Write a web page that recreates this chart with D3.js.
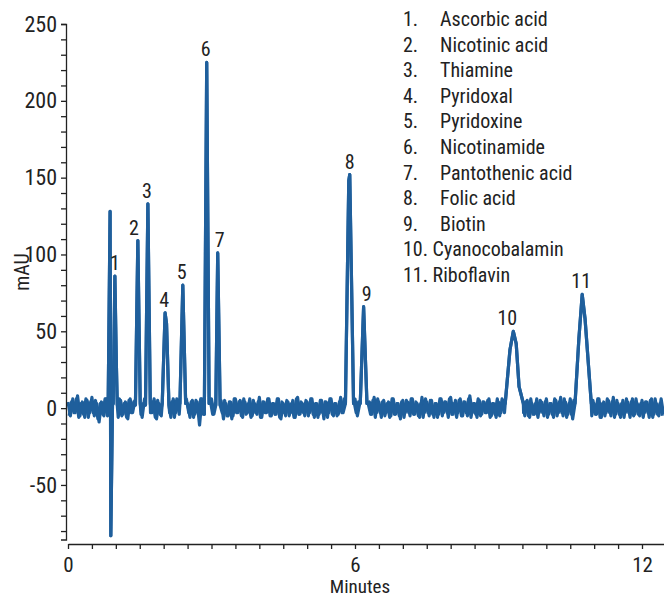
<!DOCTYPE html>
<meta charset="utf-8">
<script src="https://d3js.org/d3.v7.min.js"></script>
<head>
<style>
  body { margin: 0; background: #fff; }
  text { font-family: "Liberation Sans Narrow", "Arial Narrow", "Roboto Condensed", "Liberation Sans", sans-serif; fill: #222; }
</style>
</head>
<body>
<div id="my_dataviz"></div>
<script>
// compound names for the legend
var compounds = ["Ascorbic acid", "Nicotinic acid", "Thiamine", "Pyridoxal", "Pyridoxine",
  "Nicotinamide", "Pantothenic acid", "Folic acid", "Biotin", "Cyanocobalamin", "Riboflavin"];

// peak apex (minutes, mAU) used for the peak number labels
var peakTimes   = [0.98, 1.46, 1.67, 2.03, 2.40, 2.90, 3.13, 5.89, 6.18, 9.31, 10.75];
var peakHeights = [86, 109, 133, 62, 80, 225, 101, 152, 66, 50, 74];

// peak shapes: [minutes, mAU]
var injection = [[0.84, 3], [0.88, 128], [0.895, -83], [0.93, 2]];
var peak1  = [[0.945, 3], [0.98, 86], [1.01, 30], [1.03, 2]];
var peak2  = [[1.41, 2], [1.46, 109], [1.51, 3]];
var peak3  = [[1.62, 2], [1.67, 133], [1.72, 3]];
var peak4  = [[1.97, 3], [2.03, 62], [2.06, 55], [2.11, 2]];
var peak5  = [[2.34, 3], [2.40, 80], [2.46, 3]];
var peak6  = [[2.85, -4], [2.90, 225], [2.95, 3]];
var peak7  = [[3.09, 2], [3.13, 101], [3.18, 2]];
var peak8  = [[5.80, 3], [5.87, 148], [5.89, 152], [5.97, 3]];
var peak9  = [[6.11, 3], [6.18, 66], [6.25, 3]];
var peak10 = [[9.14, 3], [9.24, 38], [9.31, 50], [9.37, 42], [9.43, 14], [9.52, 3]];
var peak11 = [[10.60, 3], [10.68, 45], [10.75, 74], [10.81, 58], [10.94, 3]];
var peaks = [injection, peak1, peak2, peak3, peak4, peak5, peak6, peak7, peak8, peak9, peak10, peak11];

// baseline noise of the two overlaid runs, one reading every 0.05 min
var baseStep = 0.05;
var baselineA = [
  4,-5,6,-3,8,-5,4,-6,5,-3,7,-5,3,-9,4,-5,6,-3,5,-4,
  3,-6,5,-4,4,-7,6,-3,5,-5,7,-6,6,-4,4,-3,6,-7,3,-5,
  5,-4,4,-6,6,-3,4,-5,5,-4,3,-6,5,-4,4,-11,6,-3,4,-5,
  6,-4,4,-3,5,-7,3,-5,4,-5,6,-3,5,-6,4,-3,6,-5,3,-4,
  7,-6,4,-3,6,-5,3,-4,6,-7,3,-5,4,-3,5,-6,7,-4,3,-5,
  4,-3,6,-6,3,-4,5,-7,4,-3,6,-5,3,-4,7,-3,4,-6,5,-4,
  6,-5,3,-4,5,-6,4,-4,7,-3,4,-6,5,-3,4,-5,6,-4,3,-7,
  5,-3,4,-5,6,-4,3,-6,7,-3,4,-5,5,-6,3,-4,6,-3,4,-6,
  7,-4,5,-3,6,-5,4,-5,8,-3,3,-6,5,-4,4,-3,6,-5,3,-6,
  4,-3,5,-5,6,-4,3,-7,6,-3,4,-5,5,-6,3,-4,6,-3,4,-5,
  6,-4,3,-6,5,-3,7,-5,4,-4,6,-7,3,-3,5,-6,4,-3,6,-5,
  3,-4,6,-6,4,-3,5,-5,7,-4,3,-6,5,-3,4,-6,6,-4,3,-5,
  5,-3,4,-6,6,-4,3,-5,6,-4
];
var baselineB = [
  -5,4,-3,6,-6,3,-4,6,-6,4,-3,5,-7,3,-4,6,-5,3,-6,4,
  -3,6,-5,3,-6,5,-3,4,-6,6,-4,3,-5,6,-3,4,-6,5,-4,3,
  -6,5,-3,4,-6,6,-4,3,-5,6,-3,4,-6,5,-3,6,-4,3,-6,5,
  -4,3,-6,6,-3,5,-5,4,-7,6,-3,4,-5,6,-4,3,-6,5,-3,4,
  -6,4,-3,6,-5,3,-4,6,-6,4,-3,5,-5,3,-6,6,-4,4,-3,5,
  -5,6,-4,3,-6,5,-3,4,-6,6,-4,3,-5,4,-3,6,-6,3,-4,5,
  -3,4,-6,6,-5,3,-4,5,-6,6,-3,4,-5,3,-6,6,-4,3,-5,4,
  -6,5,-3,6,-4,4,-5,3,-6,6,-3,5,-4,3,-6,6,-5,4,-3,6,
  -4,3,-6,5,-5,4,-3,6,-6,3,-4,6,-5,4,-3,5,-6,3,-4,6,
  -5,6,-3,4,-6,5,-4,3,-6,6,-3,4,-5,6,-4,3,-6,5,-3,4,
  -6,3,-4,6,-5,4,-3,6,-6,3,-4,5,-5,4,-6,6,-3,3,-4,5,
  -4,6,-6,3,-5,6,-3,4,-6,5,-4,3,-6,6,-3,4,-5,6,-4,3,
  -6,4,-3,5,-6,6,-4,3,-5,4
];

var xTicks = [0, 6, 12];
var yTicks = [-50, 0, 50, 100, 150, 200, 250];

var width = 664, height = 597;
var svg = d3.select("#my_dataviz")
  .append("svg")
    .attr("width", width)
    .attr("height", height);

var x = d3.scaleLinear().domain([0, 12.46]).range([68, 664]);
var y = d3.scaleLinear().domain([-85.5, 250]).range([539.5, 24]);

// build a trace: baseline outside the peak windows, plus the peak points
function buildTrace(baseline, offset) {
  var pts = [];
  baseline.forEach(function(v, i) {
    var t = i * baseStep + offset;
    var inside = peaks.some(function(p) { return t >= p[0][0] && t <= p[p.length - 1][0]; });
    if (!inside) pts.push([t, v]);
  });
  peaks.forEach(function(p) { p.forEach(function(d) { pts.push(d); }); });
  pts.sort(function(a, b) { return a[0] - b[0]; });
  return pts.filter(function(d) { return d[0] <= 12.46; });
}

var line = d3.line()
  .x(function(d) { return x(d[0]); })
  .y(function(d) { return y(d[1]); });

[buildTrace(baselineA, 0), buildTrace(baselineB, 0.025)].forEach(function(pts) {
  svg.append("path")
    .datum(pts)
    .attr("fill", "none")
    .attr("stroke", "#1f5f9c")
    .attr("stroke-width", 3.2)
    .attr("stroke-linejoin", "round")
    .attr("d", line);
});

// Y axis
var yAxis = svg.append("g")
  .attr("transform", "translate(66,0)")
  .call(d3.axisLeft(y).tickValues(d3.range(-80, 251, 10)).tickSize(5).tickSizeOuter(5)
    .tickFormat(function(d) { return yTicks.indexOf(d) >= 0 ? d : ""; }));
yAxis.selectAll("text").style("font-size", "22px").attr("x", -9);
yAxis.selectAll("path, line").attr("stroke", "#222").attr("stroke-width", 1.3);

svg.append("text")
  .attr("transform", "translate(29,272) rotate(-90)")
  .attr("text-anchor", "middle")
  .style("font-size", "20px")
  .text("mAU");

// X axis
var xAxis = svg.append("g")
  .attr("transform", "translate(0,544)")
  .call(d3.axisBottom(x).tickValues(d3.range(0, 12.5, 0.5)).tickSize(5).tickSizeOuter(0)
    .tickFormat(function(d) { return xTicks.indexOf(d) >= 0 ? d : ""; }));
xAxis.selectAll("text").style("font-size", "21px").attr("y", 13);
xAxis.selectAll("path, line").attr("stroke", "#222").attr("stroke-width", 1.3);

svg.append("text")
  .attr("x", 360)
  .attr("y", 593)
  .attr("text-anchor", "middle")
  .style("font-size", "19px")
  .text("Minutes");

// peak numbers
var nudge = [0, -4, -1, -1, -1, -1, 2, 0, 3, -6, -1];
svg.selectAll(".plabel")
  .data(peakTimes)
  .enter()
  .append("text")
    .attr("class", "plabel")
    .attr("x", function(d, i) { return x(d) + nudge[i]; })
    .attr("y", function(d, i) { return y(peakHeights[i]) - 6; })
    .attr("text-anchor", "middle")
    .style("font-size", "20px")
    .text(function(d, i) { return i + 1; });

// legend
var legend = svg.append("g");
legend.selectAll("g")
  .data(compounds)
  .enter()
  .append("text")
    .attr("x", 403)
    .attr("y", function(d, i) { return 26 + i * 25.6; })
    .style("font-size", "20px")
    .each(function(d, i) {
      var t = d3.select(this);
      if (i < 9) {
        t.append("tspan").text((i + 1) + ".");
        t.append("tspan").attr("x", 440).text(d);
      } else {
        t.text((i + 1) + ". " + d);
      }
    });
</script>
</body>
